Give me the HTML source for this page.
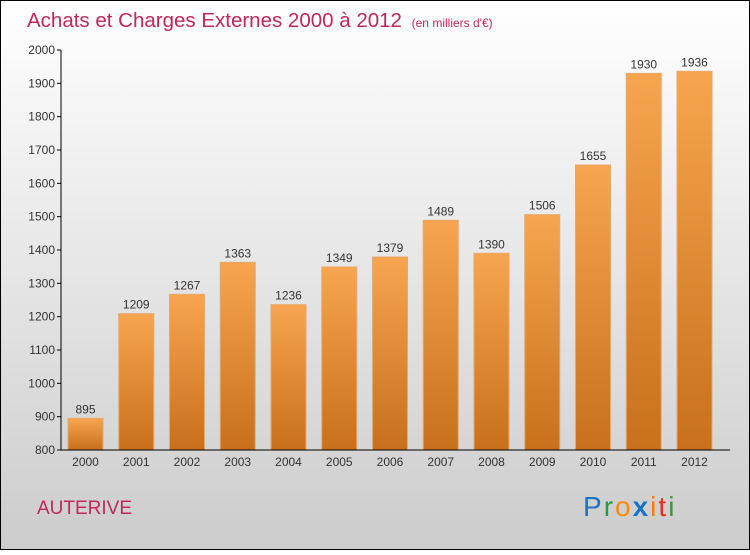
<!DOCTYPE html>
<html><head><meta charset="utf-8"><style>
html,body{margin:0;padding:0}
body{width:750px;height:550px;overflow:hidden;font-family:"Liberation Sans",sans-serif}
</style></head><body>
<svg width="750" height="550" viewBox="0 0 750 550">
<defs>
<linearGradient id="bg" x1="0" y1="0" x2="0" y2="1"><stop offset="0" stop-color="#ffffff"/><stop offset="1" stop-color="#cccccc"/></linearGradient>
<linearGradient id="bar" x1="0" y1="0" x2="0" y2="1"><stop offset="0" stop-color="#f7a550"/><stop offset="1" stop-color="#c8701c"/></linearGradient>
</defs>
<rect x="0.5" y="0.5" width="749" height="549" fill="url(#bg)" stroke="#000"/>
<text x="27" y="27" font-size="20.5" fill="#c0285a">Achats et Charges Externes 2000 à 2012 <tspan font-size="12" dx="4">(en milliers d'€)</tspan></text>
<g id="plot"></g>
<text x="37" y="514" font-size="19" fill="#c0285a">AUTERIVE</text>
<text x="583" y="516" font-size="28" letter-spacing="2"><tspan fill="#1a73c8">P</tspan><tspan fill="#2a9a40">r</tspan><tspan fill="#ff8a00">o</tspan><tspan fill="#1a73c8" font-weight="bold">x</tspan><tspan fill="#ff7a00">i</tspan><tspan fill="#e03020">t</tspan><tspan fill="#3a9a30">i</tspan></text>
</svg>
<script>
const years=["2000","2001","2002","2003","2004","2005","2006","2007","2008","2009","2010","2011","2012"];
const values=[895,1209,1267,1363,1236,1349,1379,1489,1390,1506,1655,1930,1936];
const ticks=[800,900,1000,1100,1200,1300,1400,1500,1600,1700,1800,1900,2000];
const NS="http://www.w3.org/2000/svg";
const g=document.getElementById('plot');
function y(v){return 450-(v-800)/1200*400;}
function x(i){return 85.5+i*50.75;}
function mk(t,a,txt){const e=document.createElementNS(NS,t);for(const k in a)e.setAttribute(k,a[k]);if(txt!=null)e.textContent=txt;g.appendChild(e);return e;}
ticks.forEach(t=>{
 const l=mk('line',{x1:57,x2:61,y1:y(t),y2:y(t),stroke:'#000'});
 
 
 const tx=mk('text',{x:55,y:y(t)+4,'font-size':12,'text-anchor':'end',fill:'#333'},t);
 
 
});
values.forEach((v,i)=>{
 const r=mk('rect',{x:x(i)-17.5,y:y(v),width:35,height:450-y(v),fill:'url(#bar)',stroke:'#e8a868','stroke-width':1});
 
 
 const lb=mk('text',{x:x(i),y:y(v)-5,'font-size':12,'text-anchor':'middle',fill:'#333'},v);
 
 
 const xl=mk('text',{x:x(i),y:466,'font-size':12,'text-anchor':'middle',fill:'#333'},years[i]);
 
 
});
const ya=mk('line',{x1:61,x2:61,y1:50,y2:450,stroke:'#000'});


const xa=mk('line',{x1:61,x2:730,y1:450,y2:450,stroke:'#000'});


</script>
</body></html>
